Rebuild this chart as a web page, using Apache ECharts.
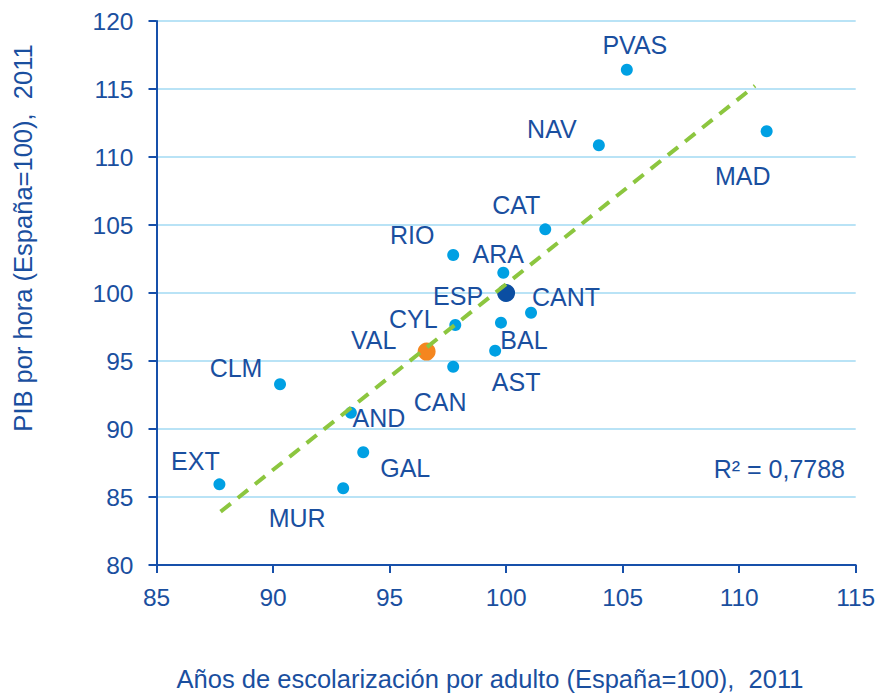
<!DOCTYPE html>
<html>
<head>
<meta charset="utf-8">
<style>
html,body{margin:0;padding:0;background:#fff;}
#chart{width:881px;height:695px;}
</style>
<script src="https://cdn.jsdelivr.net/npm/echarts@6/dist/echarts.min.js"></script>
</head>
<body>
<div id="chart"></div>
<script>
// ---- Data ----
const regions = ['PVAS','NAV','MAD','CAT','RIO','ARA','ESP','CANT','CYL','BAL','AST','CAN','VAL','CLM','AND','GAL','EXT','MUR'];
const schooling = [105.18,103.98,111.18,101.68,97.73,99.88,100.0,101.07,97.82,99.78,99.53,97.73,96.59,90.30,93.34,93.87,87.70,93.01];
const gdpPerHour = [116.42,110.86,111.89,104.68,102.79,101.49,100.0,98.55,97.65,97.82,95.76,94.58,95.69,93.29,91.20,88.29,85.93,85.64];
const trendX = [87.75, 110.68];
const trendY = [83.92, 115.24];
const xTicks = [85, 90, 95, 100, 105, 110, 115];
const yTicks = [80, 85, 90, 95, 100, 105, 110, 115, 120];
const r2Text = 'R² = 0,7788';
const xTitle = 'Años de escolarización por adulto (España=100),  2011';
const yTitle = 'PIB por hora (España=100),  2011';

// ---- Styling (label offsets in px relative to point centre) ----
const labelOffset = {
  PVAS:[8,-25], NAV:[-47,-16], MAD:[-24,45], CAT:[-29,-24], RIO:[-41,-20], ARA:[-5,-19],
  ESP:[-48,3], CANT:[35,-16], CYL:[-42,-6], BAL:[23,17], AST:[21,31], CAN:[-13,35],
  VAL:[-53,-12], CLM:[-44,-16], AND:[28,5], GAL:[42,16], EXT:[-24,-23], MUR:[-46,30]
};
const special = {
  ESP:{color:'#0b4ea2', size:18},
  VAL:{color:'#f5861f', size:18}
};
const textColor = '#1a4f9f';
const axisColor = '#1750aa';
const font = 'Liberation Sans, Arial, sans-serif';

const points = regions.map((r,i)=>{
  const sp = special[r];
  return {
    name: r,
    value: [schooling[i], gdpPerHour[i]],
    symbolSize: sp ? sp.size : 12,
    itemStyle: {color: sp ? sp.color : '#00a0e3', opacity:1},
    label: {offset: labelOffset[r]}
  };
});

const chart = echarts.init(document.getElementById('chart'), null, {renderer:'svg'});
chart.setOption({
  animation:false,
  backgroundColor:'#ffffff',
  grid:{left:156.5, right:25.3, top:21, bottom:130, containLabel:false},
  xAxis:{
    type:'value', min:xTicks[0], max:xTicks[xTicks.length-1], interval:5,
    axisLine:{show:true, onZero:false, lineStyle:{color:axisColor, width:2}},
    axisTick:{show:true, inside:false, length:8, lineStyle:{color:axisColor, width:2}},
    axisLabel:{color:textColor, fontSize:24.5, fontFamily:font, margin:20},
    splitLine:{show:false}
  },
  yAxis:{
    type:'value', min:yTicks[0], max:yTicks[yTicks.length-1], interval:5,
    axisLine:{show:true, onZero:false, lineStyle:{color:axisColor, width:2}},
    axisTick:{show:true, inside:false, length:8, lineStyle:{color:axisColor, width:2}},
    axisLabel:{color:textColor, fontSize:24.5, fontFamily:font, margin:23},
    splitLine:{show:true, lineStyle:{color:'#b9e3f6', width:2}}
  },
  series:[
    {
      type:'scatter', z:2,
      data: points,
      itemStyle:{opacity:1},
      label:{show:true, position:'inside', formatter:'{b}', color:textColor, opacity:1, fontSize:25, fontFamily:font},
      emphasis:{disabled:true}
    },
    {
      type:'line', z:3,
      data: trendX.map((x,i)=>[x, trendY[i]]),
      symbol:'none',
      lineStyle:{color:'#8cc63f', width:4, type:[13,9], opacity:1},
      emphasis:{disabled:true}
    }
  ],
  graphic:[
    {type:'text', x:845, y:469, z:10,
      style:{text:r2Text, fill:textColor, font:'25px '+font, textAlign:'right', textVerticalAlign:'middle'}},
    {type:'text', x:490, y:679, z:10,
      style:{text:xTitle, fill:textColor, font:'25.5px '+font, textAlign:'center', textVerticalAlign:'middle'}},
    {type:'text', x:23, y:238, rotation:Math.PI/2, z:10,
      style:{text:yTitle, fill:textColor, font:'25.5px '+font, textAlign:'center', textVerticalAlign:'middle'}}
  ]
});
</script>
</body>
</html>
